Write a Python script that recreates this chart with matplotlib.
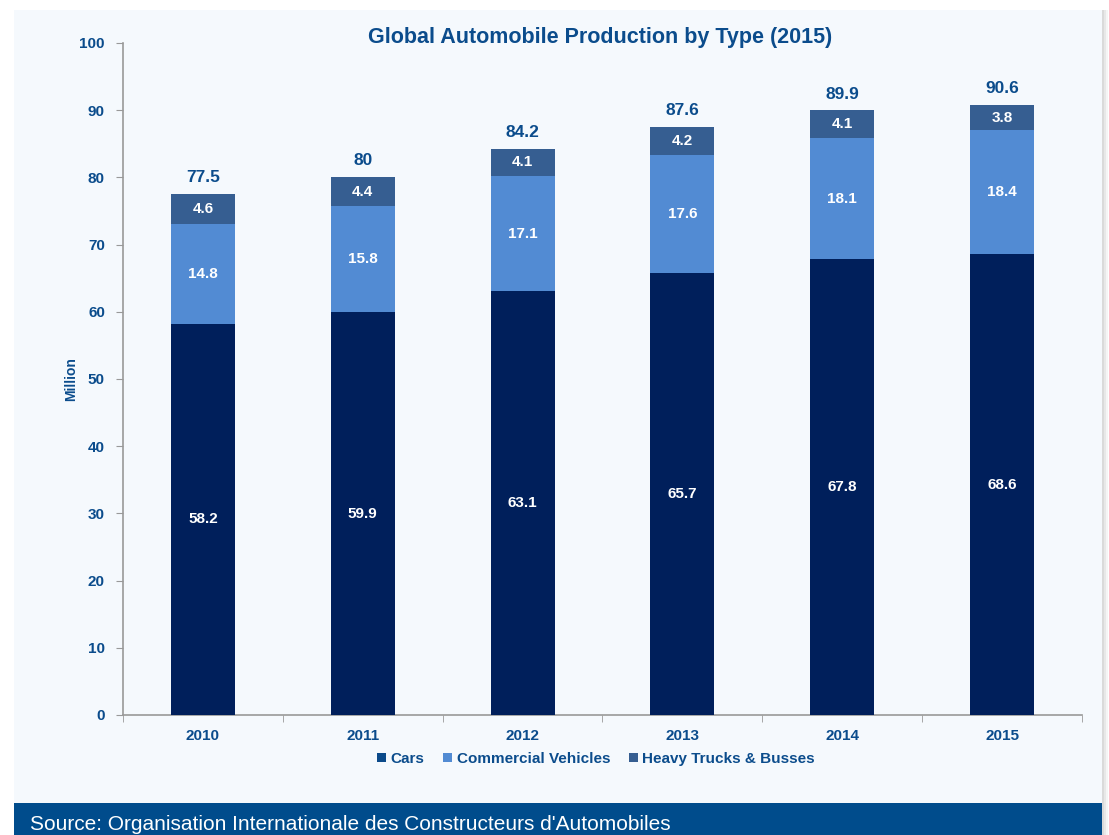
import numpy as np
import matplotlib.pyplot as plt
from matplotlib.patches import Rectangle, Patch

plt.rcParams['font.family'] = ['Liberation Sans', 'DejaVu Sans']

years = ['2010', '2011', '2012', '2013', '2014', '2015']
cars = [58.2, 59.9, 63.1, 65.7, 67.8, 68.6]
commercial = [14.8, 15.8, 17.1, 17.6, 18.1, 18.4]
heavy = [4.6, 4.4, 4.1, 4.2, 4.1, 3.8]
totals = [77.5, 80, 84.2, 87.6, 89.9, 90.6]

c_cars = '#001f5b'
c_comm = '#528bd3'
c_heavy = '#365e91'
c_text = '#0b4c8c'
c_panel = '#f5f9fd'

fig = plt.figure(figsize=(11.09, 8.35), dpi=100)
fig.patch.set_facecolor('white')

# card background with a soft shadow
for off, a in [(6, 0.04), (4, 0.05), (2, 0.06)]:
    fig.add_artist(Rectangle(((14 + off) / 1109, 0), 1088 / 1109, 825 / 835,
                             transform=fig.transFigure, facecolor='black', alpha=a,
                             edgecolor='none', zorder=0))
fig.add_artist(Rectangle((14 / 1109, 0), 1088 / 1109, 825 / 835, transform=fig.transFigure,
                         facecolor=c_panel, edgecolor='none', zorder=0.5))
# source band
fig.add_artist(Rectangle((14 / 1109, 0), 1088 / 1109, 32 / 835, transform=fig.transFigure,
                         facecolor='#004c8c', edgecolor='none', zorder=1))
fig.text(30 / 1109, 5 / 835, "Source: Organisation Internationale des Constructeurs d'Automobiles",
         color='white', fontsize=15, ha='left', va='baseline', zorder=2)

ax = fig.add_axes([123 / 1109, 1 - 715 / 835, (1082 - 123) / 1109, (715 - 43) / 835])
ax.set_facecolor('none')
ax.set_zorder(3)

x = np.arange(len(years))
w = 0.4
ax.bar(x, cars, w, color=c_cars, zorder=3)
ax.bar(x, commercial, w, bottom=cars, color=c_comm, zorder=3)
base2 = np.array(cars) + np.array(commercial)
ax.bar(x, heavy, w, bottom=base2, color=c_heavy, zorder=3)

for i in range(len(years)):
    ax.text(x[i], cars[i] / 2, f'{cars[i]}', ha='center', va='center',
            color='white', fontsize=11, fontweight='bold', zorder=4)
    ax.text(x[i], cars[i] + commercial[i] / 2, f'{commercial[i]}', ha='center', va='center',
            color='white', fontsize=11, fontweight='bold', zorder=4)
    ax.text(x[i], base2[i] + heavy[i] / 2, f'{heavy[i]}', ha='center', va='center',
            color='white', fontsize=11, fontweight='bold', zorder=4)
    ax.text(x[i], base2[i] + heavy[i] + 2.4, f'{totals[i]:g}', ha='center', va='center',
            color=c_text, fontsize=12.5, fontweight='bold', zorder=4)

ax.set_xlim(-0.5, 5.5)
ax.set_ylim(0, 100)
ax.set_yticks(np.arange(0, 101, 10))
ax.set_xticks(x)
ax.set_xticklabels(years)
ax.set_xticks(np.arange(-0.5, 5.6, 1), minor=True)
ax.tick_params(axis='x', which='major', length=0, pad=10)
ax.tick_params(axis='x', which='minor', length=5, color='#999999', direction='out')
ax.tick_params(axis='y', length=5, color='#999999', pad=8)
for lab in ax.get_xticklabels() + ax.get_yticklabels():
    lab.set_color(c_text)
    lab.set_fontweight('bold')
    lab.set_fontsize(11)

for s in ['top', 'right']:
    ax.spines[s].set_visible(False)
for s in ['left', 'bottom']:
    ax.spines[s].set_color('#999999')
    ax.spines[s].set_linewidth(1.2)

ax.set_ylabel('Million', color=c_text, fontsize=10, fontweight='bold', labelpad=1)

fig.text(600 / 1109, 1 - 37 / 835, 'Global Automobile Production by Type (2015)',
         ha='center', va='center', color=c_text, fontsize=15.5, fontweight='bold', zorder=4)

handles = [Patch(facecolor='#0b4a8a', label='Cars'),
           Patch(facecolor=c_comm, label='Commercial Vehicles'),
           Patch(facecolor=c_heavy, label='Heavy Trucks & Busses')]
leg = fig.legend(handles=handles, loc='center', bbox_to_anchor=(596 / 1109, 1 - 759 / 835),
                 ncol=3, frameon=False, handlelength=0.6, handleheight=0.6,
                 handletextpad=0.3, columnspacing=1.2, fontsize=11)
leg.set_zorder(4)
for t in leg.get_texts():
    t.set_color(c_text)
    t.set_fontweight('bold')

fig.savefig('out.png', dpi=100, facecolor=fig.get_facecolor())
